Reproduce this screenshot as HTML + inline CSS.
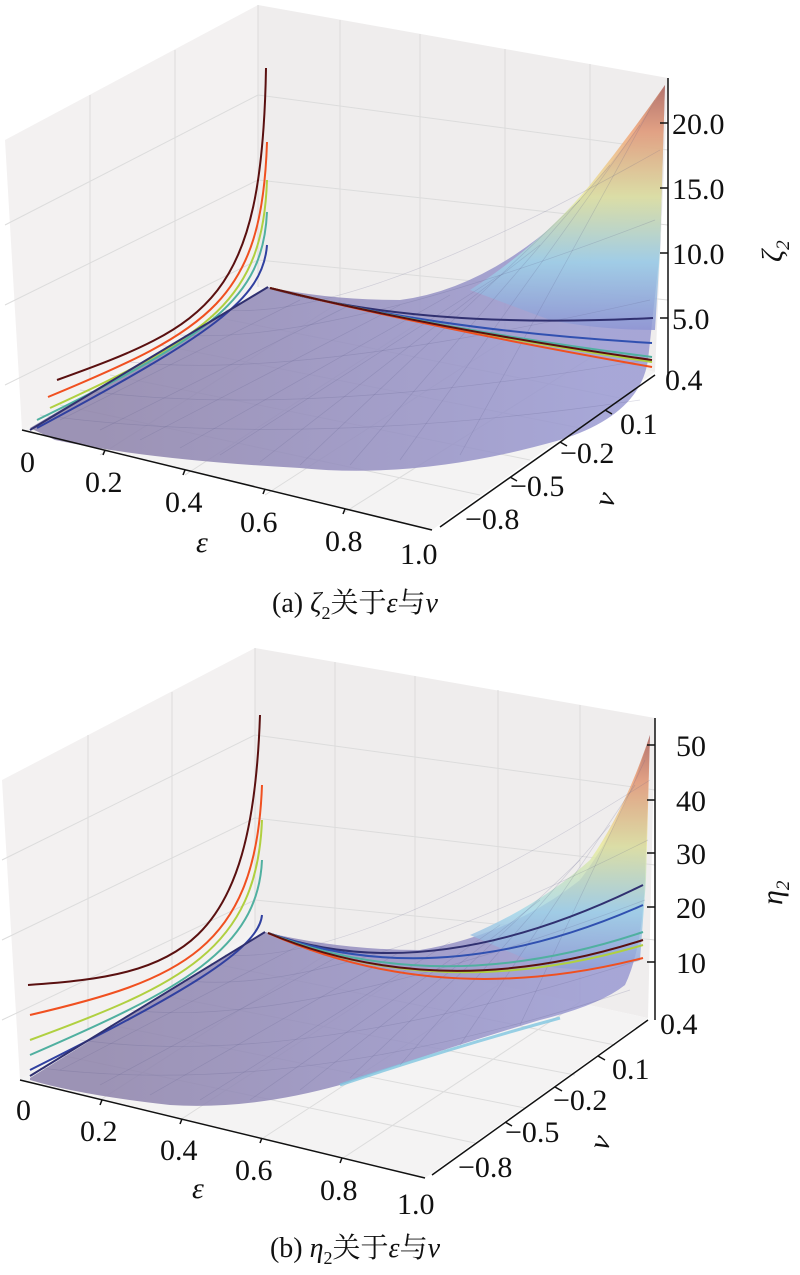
<!DOCTYPE html>
<html><head><meta charset="utf-8"><style>
html,body{margin:0;padding:0;background:#fff}
svg{display:block}
text{font-family:"Liberation Serif","Noto Serif CJK SC",serif;fill:#111}
</style></head><body>
<svg width="800" height="1275" viewBox="0 0 800 1275" xmlns="http://www.w3.org/2000/svg">
<defs>
<linearGradient id="ga" gradientUnits="userSpaceOnUse" x1="0" y1="340" x2="0" y2="80">
<stop offset="0" stop-color="#8a8ad0"/><stop offset="0.3" stop-color="#9fd6ea"/><stop offset="0.55" stop-color="#e8eb9a"/><stop offset="0.8" stop-color="#f0a070"/><stop offset="1" stop-color="#b06050"/>
</linearGradient>
<linearGradient id="gb" gradientUnits="userSpaceOnUse" x1="0" y1="990" x2="0" y2="730">
<stop offset="0" stop-color="#8a8ad0"/><stop offset="0.3" stop-color="#9fd6ea"/><stop offset="0.55" stop-color="#e8eb9a"/><stop offset="0.8" stop-color="#f0a070"/><stop offset="1" stop-color="#b06050"/>
</linearGradient>
<linearGradient id="sh" gradientUnits="userSpaceOnUse" x1="100" y1="0" x2="600" y2="0">
<stop offset="0" stop-color="#8d82aa"/><stop offset="0.5" stop-color="#948ebf"/><stop offset="1" stop-color="#9a9ad2"/>
</linearGradient>
</defs>

<!-- ===== Panel a ===== -->
<g>
<polygon points="5,140 258,5 258,287 22,430" fill="#f3f1f1"/>
<polygon points="258,5 668,78 655,372 258,287" fill="#efeded"/>
<polygon points="22,430 258,287 655,372 432,530" fill="#f4f3f3"/>
<g stroke="#dcdcdc" stroke-width="1" fill="none">
<line x1="90" y1="95" x2="90" y2="380"/><line x1="175" y1="50" x2="175" y2="335"/>
<line x1="5" y1="225" x2="258" y2="95"/><line x1="5" y1="305" x2="258" y2="180"/><line x1="5" y1="385" x2="258" y2="260"/>
<line x1="340" y1="20" x2="340" y2="305"/><line x1="420" y1="34" x2="420" y2="322"/><line x1="505" y1="49" x2="505" y2="340"/><line x1="590" y1="64" x2="590" y2="358"/>
<line x1="258" y1="95" x2="668" y2="150"/><line x1="258" y1="180" x2="668" y2="225"/><line x1="258" y1="260" x2="668" y2="300"/>
<line x1="100" y1="455" x2="335" y2="305"/><line x1="185" y1="475" x2="420" y2="322"/><line x1="265" y1="495" x2="505" y2="340"/><line x1="345" y1="512" x2="590" y2="358"/>
<line x1="60" y1="405" x2="480" y2="495"/><line x1="110" y1="375" x2="530" y2="460"/><line x1="160" y1="345" x2="580" y2="428"/><line x1="210" y1="316" x2="620" y2="398"/>
<line x1="258" y1="5" x2="258" y2="287"/>
</g>
<path d="M30,428 L268,287 Q330,300 400,300 Q480,290 560,220 Q620,160 665,85 L660,250 L648,360 Q640,415 560,440 Q420,480 300,468 Q150,460 55,440 Z" fill="url(#sh)" fill-opacity="0.85"/>
<path d="M470,290 Q540,245 590,185 Q630,135 665,85 L660,250 L655,330 Q600,330 550,320 Z" fill="url(#ga)" fill-opacity="0.8"/>
<g stroke="#5d5d8a" stroke-opacity="0.22" stroke-width="0.7" fill="none">
<path d="M60,420 L300,300"/><path d="M100,430 L350,305"/><path d="M140,440 L400,305"/><path d="M180,448 L450,295"/><path d="M220,455 L500,275"/><path d="M260,462 L540,245"/><path d="M300,465 L580,200"/><path d="M350,465 L610,165"/><path d="M400,460 L640,125"/><path d="M460,455 L655,100"/>
<path d="M40,415 Q300,450 640,400"/><path d="M80,390 Q300,420 645,360"/><path d="M130,362 Q300,380 650,300"/><path d="M180,335 Q330,345 655,220"/><path d="M225,310 Q360,320 660,150"/>
</g>
<g fill="none" stroke-width="2">
<path d="M57,380 C210,325 262,300 266,68" stroke="#5a1010"/>
<path d="M48,397 C210,330 262,300 267,142" stroke="#f05020"/>
<path d="M50,408 C210,335 263,300 267,180" stroke="#b0d040"/>
<path d="M37,420 C210,335 263,300 267,212" stroke="#50b0a0"/>
<path d="M37,428 C210,335 263,300 267,245" stroke="#3040a0"/>
<path d="M30,430 L268,287" stroke="#303070"/>
</g>
<g fill="none" stroke-width="2">
<path d="M270,288 Q420,330 653,318" stroke="#303070"/>
<path d="M270,288 Q430,330 652,343" stroke="#3050b0"/>
<path d="M270,288 Q440,330 652,357" stroke="#50b0a0"/>
<path d="M270,288 Q440,330 652,362" stroke="#b0d040"/>
<path d="M270,288 Q440,330 652,367" stroke="#f05020"/>
<path d="M270,288 Q440,330 652,360" stroke="#5a1010"/>
</g>
<g stroke="#111" stroke-width="1.5" fill="none">
<line x1="22" y1="430" x2="432" y2="530"/>
<line x1="440" y1="527" x2="655" y2="375"/>
<line x1="668" y1="78" x2="668" y2="375"/>
<line x1="668" y1="123" x2="660" y2="123"/><line x1="668" y1="188" x2="660" y2="188"/><line x1="668" y1="253" x2="660" y2="253"/><line x1="668" y1="318" x2="660" y2="318"/>
<line x1="105" y1="450" x2="103" y2="455"/><line x1="185" y1="470" x2="183" y2="475"/><line x1="265" y1="489" x2="263" y2="494"/><line x1="345" y1="509" x2="343" y2="514"/>
<line x1="605" y1="410" x2="612" y2="414"/><line x1="560" y1="442" x2="567" y2="446"/><line x1="510" y1="477" x2="517" y2="481"/>
</g>
<g font-size="30">
<text x="20" y="472">0</text><text x="85" y="492">0.2</text><text x="165" y="512">0.4</text><text x="240" y="532">0.6</text><text x="325" y="551">0.8</text><text x="400" y="564">1.0</text>
<text x="672" y="134">20.0</text><text x="672" y="199">15.0</text><text x="672" y="264">10.0</text><text x="672" y="329">5.0</text>
<text x="665" y="390">0.4</text><text x="620" y="434">0.1</text><text x="560" y="463">−0.2</text><text x="510" y="496">−0.5</text><text x="465" y="529">−0.8</text>
<text x="196" y="552" font-style="italic">ε</text>
<text x="0" y="0" font-style="italic" transform="translate(612,509) rotate(-70)">ν</text>
<text x="0" y="0" font-style="italic" transform="translate(782,262) rotate(-90)">ζ<tspan font-size="19" dy="7">2</tspan></text>
</g>
<text x="355" y="612" font-size="28" text-anchor="middle">(a) <tspan font-style="italic">ζ</tspan><tspan font-size="18" dy="7">2</tspan><tspan dy="-7">关于</tspan><tspan font-style="italic">ε</tspan>与<tspan font-style="italic">v</tspan></text>
</g>

<!-- ===== Panel b ===== -->
<g>
<polygon points="2,780 255,648 255,932 20,1080" fill="#f3f1f1"/>
<polygon points="255,648 655,718 648,1018 255,932" fill="#efeded"/>
<polygon points="20,1080 255,932 648,1018 425,1178" fill="#f4f3f3"/>
<g stroke="#dcdcdc" stroke-width="1" fill="none">
<line x1="88" y1="735" x2="88" y2="1030"/><line x1="172" y1="692" x2="172" y2="985"/>
<line x1="2" y1="860" x2="255" y2="735"/><line x1="2" y1="940" x2="255" y2="818"/><line x1="2" y1="1020" x2="255" y2="900"/>
<line x1="335" y1="662" x2="335" y2="950"/><line x1="415" y1="676" x2="415" y2="967"/><line x1="498" y1="690" x2="498" y2="985"/><line x1="580" y1="705" x2="580" y2="1002"/>
<line x1="255" y1="735" x2="655" y2="790"/><line x1="255" y1="818" x2="655" y2="865"/><line x1="255" y1="900" x2="655" y2="940"/>
<line x1="100" y1="1100" x2="333" y2="950"/><line x1="180" y1="1120" x2="415" y2="967"/><line x1="260" y1="1140" x2="498" y2="985"/><line x1="340" y1="1160" x2="580" y2="1002"/>
<line x1="60" y1="1055" x2="475" y2="1143"/><line x1="110" y1="1025" x2="525" y2="1108"/><line x1="160" y1="995" x2="575" y2="1075"/><line x1="210" y1="963" x2="615" y2="1045"/>
<line x1="255" y1="648" x2="255" y2="932"/>
</g>
<path d="M30,1078 L265,932 Q340,950 420,950 Q510,935 580,880 Q625,820 650,735 L645,880 Q642,950 625,985 Q600,1005 540,1020 Q440,1050 340,1085 Q250,1110 170,1105 Q80,1095 30,1080 Z" fill="url(#sh)" fill-opacity="0.85"/>
<path d="M470,935 Q540,905 590,860 Q625,810 650,735 L646,880 L640,960 Q590,975 540,965 Z" fill="url(#gb)" fill-opacity="0.8"/>
<path d="M340,1085 Q450,1048 560,1018" stroke="#7fc6e0" stroke-width="3" fill="none" opacity="0.8"/>
<g stroke="#5d5d8a" stroke-opacity="0.22" stroke-width="0.7" fill="none">
<path d="M60,1070 L300,945"/><path d="M100,1085 L350,950"/><path d="M150,1095 L400,952"/><path d="M200,1100 L450,942"/><path d="M250,1100 L500,925"/><path d="M300,1090 L540,900"/><path d="M350,1078 L580,860"/><path d="M400,1065 L610,825"/><path d="M460,1045 L635,785"/><path d="M520,1025 L645,760"/>
<path d="M40,1068 Q300,1100 630,990"/><path d="M80,1040 Q300,1070 640,960"/><path d="M130,1010 Q300,1030 645,900"/><path d="M180,980 Q330,1000 648,840"/><path d="M225,955 Q360,965 650,780"/>
</g>
<g fill="none" stroke-width="2">
<path d="M28,985 C180,975 252,950 260,715" stroke="#5a1010"/>
<path d="M30,1015 C180,980 256,950 262,785" stroke="#f05020"/>
<path d="M30,1040 C180,985 257,950 262,820" stroke="#b0d040"/>
<path d="M30,1055 C180,990 258,950 262,860" stroke="#50b0a0"/>
<path d="M30,1070 C180,995 259,950 262,915" stroke="#3040a0"/>
<path d="M30,1076 L265,932" stroke="#303070"/>
</g>
<g fill="none" stroke-width="2">
<path d="M268,933 Q430,990 643,885" stroke="#303070"/>
<path d="M268,933 Q440,995 643,905" stroke="#3050b0"/>
<path d="M268,933 Q440,1000 643,932" stroke="#50b0a0"/>
<path d="M268,933 Q440,1005 643,945" stroke="#b0d040"/>
<path d="M268,933 Q440,1010 643,958" stroke="#f05020"/>
<path d="M268,933 Q440,1005 643,940" stroke="#5a1010"/>
</g>
<g stroke="#111" stroke-width="1.5" fill="none">
<line x1="20" y1="1080" x2="425" y2="1178"/>
<line x1="432" y1="1175" x2="648" y2="1020"/>
<line x1="655" y1="718" x2="655" y2="1020"/>
<line x1="655" y1="745" x2="647" y2="745"/><line x1="655" y1="800" x2="647" y2="800"/><line x1="655" y1="853" x2="647" y2="853"/><line x1="655" y1="907" x2="647" y2="907"/><line x1="655" y1="962" x2="647" y2="962"/>
<line x1="102" y1="1100" x2="100" y2="1105"/><line x1="182" y1="1119" x2="180" y2="1124"/><line x1="262" y1="1138" x2="260" y2="1143"/><line x1="342" y1="1158" x2="340" y2="1163"/>
<line x1="598" y1="1056" x2="605" y2="1060"/><line x1="555" y1="1087" x2="562" y2="1091"/><line x1="505" y1="1122" x2="512" y2="1126"/>
</g>
<g font-size="30">
<text x="16" y="1120">0</text><text x="80" y="1141">0.2</text><text x="160" y="1160">0.4</text><text x="235" y="1180">0.6</text><text x="320" y="1200">0.8</text><text x="397" y="1214">1.0</text>
<text x="676" y="756">50</text><text x="676" y="811">40</text><text x="676" y="864">30</text><text x="676" y="918">20</text><text x="676" y="973">10</text>
<text x="660" y="1034">0.4</text><text x="612" y="1079">0.1</text><text x="553" y="1110">−0.2</text><text x="505" y="1142">−0.5</text><text x="458" y="1177">−0.8</text>
<text x="192" y="1198" font-style="italic">ε</text>
<text x="0" y="0" font-style="italic" transform="translate(607,1152) rotate(-70)">ν</text>
<text x="0" y="0" font-style="italic" transform="translate(782,905) rotate(-90)">η<tspan font-size="19" dy="7">2</tspan></text>
</g>
<text x="355" y="1257" font-size="28" text-anchor="middle">(b) <tspan font-style="italic">η</tspan><tspan font-size="18" dy="7">2</tspan><tspan dy="-7">关于</tspan><tspan font-style="italic">ε</tspan>与<tspan font-style="italic">v</tspan></text>
</g>
</svg>
</body></html>
